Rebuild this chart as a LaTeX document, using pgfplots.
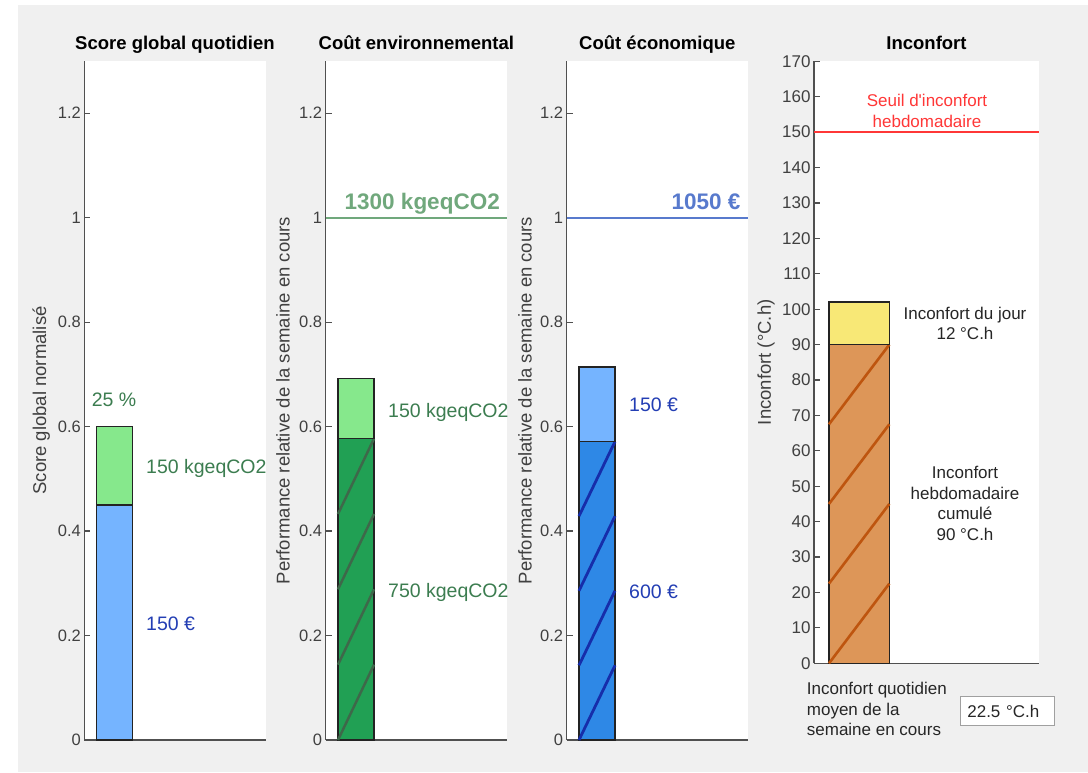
\documentclass[border=0pt]{standalone}
\usepackage{fontspec}
\setmainfont{Liberation Sans}[Ligatures=TeXOff]
\usepackage{pgfplots}
\pgfplotsset{compat=1.18}

\definecolor{bg}{RGB}{240,240,240}
\definecolor{axc}{RGB}{80,80,80}
\definecolor{tickc}{RGB}{64,64,64}
\definecolor{edge}{RGB}{35,35,35}
\definecolor{lblue}{RGB}{117,180,255}
\definecolor{lgreen}{RGB}{134,232,140}
\definecolor{dgreen}{RGB}{33,160,84}
\definecolor{hgreen}{RGB}{62,104,74}
\definecolor{dblue}{RGB}{46,136,230}
\definecolor{hblue}{RGB}{22,45,170}
\definecolor{orangeb}{RGB}{221,150,88}
\definecolor{horange}{RGB}{190,85,15}
\definecolor{yellowb}{RGB}{248,232,118}
\definecolor{txtgreen}{RGB}{60,125,80}
\definecolor{txtblue}{RGB}{35,62,180}
\definecolor{refgreen}{RGB}{112,168,124}
\definecolor{refblue}{RGB}{88,122,205}
\definecolor{refred}{RGB}{255,55,55}
\definecolor{txtdark}{RGB}{38,38,38}

\pgfplotsset{
  panel/.style={
    scale only axis, axis lines*=left,
    axis line style={axc, line width=1.2pt},
    axis background/.style={fill=white},
    xtick=\empty, tick align=inside, major tick length=6pt,
    every tick/.style={axc, line width=1.2pt},
    /pgf/number format/assume math mode=true,
    yticklabel style={font=\fontsize{16.5}{19}\selectfont, text=tickc},
    ylabel style={font=\fontsize{18.5}{22}\selectfont, text=tickc, anchor=center},
    title style={font=\bfseries\fontsize{18.5}{22}\selectfont, at={(0.5,1)}, anchor=base, yshift=5.3pt},
    clip=false, ymin=0,
  },
  perf/.style={panel, width=181.3pt, height=679pt, xmin=0, xmax=181.3, ymax=1.3,
    ytick={0,0.2,0.4,0.6,0.8,1,1.2}},
}
\newcommand{\annfont}{\fontsize{19.5}{23}\selectfont}
\newcommand{\annbold}{\bfseries\fontsize{22.5}{26}\selectfont}
\newcommand{\smfont}{\fontsize{17}{20.6}\selectfont}

\begin{document}
\begin{tikzpicture}
\useasboundingbox (0,0) rectangle (1088pt,772pt);
\fill[white] (0,0) rectangle (1088pt,772pt);
\fill[bg] (18pt,0) rectangle (1088pt,767pt);

% Panel 1
\begin{axis}[perf, at={(84.3pt,32pt)}, anchor=south west,
  title={Score global quotidien}, ylabel={Score global normalisé},
  ylabel style={at={(axis description cs:-0.237,0.5)}}]
\addplot[fill=lblue, draw=edge, line width=1.3pt] coordinates {(12.3,0) (48.3,0) (48.3,0.45) (12.3,0.45)} -- cycle;
\addplot[fill=lgreen, draw=edge, line width=1.3pt] coordinates {(12.3,0.45) (48.3,0.45) (48.3,0.6) (12.3,0.6)} -- cycle;
\node[anchor=base, font=\annfont, text=txtgreen] at (axis cs:29.7,0.638) {25 \%};
\node[anchor=base west, inner sep=0pt, font=\annfont, text=txtgreen] at (axis cs:61.7,0.511) {150 kgeqCO2};
\node[anchor=base west, inner sep=0pt, font=\annfont, text=txtblue] at (axis cs:61.7,0.209) {150 €};
\end{axis}

% Panel 2
\begin{axis}[perf, at={(325.7pt,32pt)}, anchor=south west,
  title={Coût environnemental}, ylabel={Performance relative de la semaine en cours},
  ylabel style={at={(axis description cs:-0.2355,0.5)}}]
\addplot[draw=refgreen, line width=1.8pt] coordinates {(0,1) (181.3,1)};
\addplot[fill=dgreen, draw=edge, line width=1.3pt] coordinates {(12.3,0) (48.3,0) (48.3,0.5769) (12.3,0.5769)} -- cycle;
\addplot[hgreen, line width=2.5pt] coordinates {(12.3,0) (48.3,0.1442)};
\addplot[hgreen, line width=2.5pt] coordinates {(12.3,0.1442) (48.3,0.2885)};
\addplot[hgreen, line width=2.5pt] coordinates {(12.3,0.2885) (48.3,0.4327)};
\addplot[hgreen, line width=2.5pt] coordinates {(12.3,0.4327) (48.3,0.5769)};
\addplot[fill=lgreen, draw=edge, line width=1.3pt] coordinates {(12.3,0.5769) (48.3,0.5769) (48.3,0.6923) (12.3,0.6923)} -- cycle;
\node[anchor=base east, inner sep=0pt, font=\annbold, text=refgreen] at (axis cs:174.3,1.015) {1300 kgeqCO2};
\node[anchor=base west, inner sep=0pt, font=\annfont, text=txtgreen] at (axis cs:62.3,0.618) {150 kgeqCO2};
\node[anchor=base west, inner sep=0pt, font=\annfont, text=txtgreen] at (axis cs:62.3,0.273) {750 kgeqCO2};
\end{axis}

% Panel 3
\begin{axis}[perf, at={(566.7pt,32pt)}, anchor=south west,
  title={Coût économique}, ylabel={Performance relative de la semaine en cours},
  ylabel style={at={(axis description cs:-0.230,0.5)}}]
\addplot[draw=refblue, line width=1.8pt] coordinates {(0,1) (181.3,1)};
\addplot[fill=dblue, draw=edge, line width=1.3pt] coordinates {(12.3,0) (48.3,0) (48.3,0.5714) (12.3,0.5714)} -- cycle;
\addplot[hblue, line width=2.8pt] coordinates {(12.3,0) (48.3,0.1429)};
\addplot[hblue, line width=2.8pt] coordinates {(12.3,0.1429) (48.3,0.2857)};
\addplot[hblue, line width=2.8pt] coordinates {(12.3,0.2857) (48.3,0.4286)};
\addplot[hblue, line width=2.8pt] coordinates {(12.3,0.4286) (48.3,0.5714)};
\addplot[fill=lblue, draw=edge, line width=1.3pt] coordinates {(12.3,0.5714) (48.3,0.5714) (48.3,0.7143) (12.3,0.7143)} -- cycle;
\node[anchor=base east, inner sep=0pt, font=\annbold, text=refblue] at (axis cs:174,1.015) {1050 €};
\node[anchor=base west, inner sep=0pt, font=\annfont, text=txtblue] at (axis cs:62.3,0.629) {150 €};
\node[anchor=base west, inner sep=0pt, font=\annfont, text=txtblue] at (axis cs:62.3,0.271) {600 €};
\end{axis}

% Panel 4
\begin{axis}[panel, at={(814pt,108.7pt)}, anchor=south west,
  width=225pt, height=602pt, xmin=0, xmax=225, ymax=170, ytick distance=10,
  yticklabel style={font=\fontsize{17}{20}\selectfont},
  title={Inconfort}, ylabel={Inconfort (°C.h)},
  ylabel style={at={(axis description cs:-0.2133,0.5)}}]
\addplot[draw=refred, line width=1.6pt] coordinates {(0,150) (225,150)};
\addplot[fill=orangeb, draw=edge, line width=1.3pt] coordinates {(15,0) (75.3,0) (75.3,90) (15,90)} -- cycle;
\addplot[horange, line width=2.6pt] coordinates {(15,0) (75.3,22.5)};
\addplot[horange, line width=2.6pt] coordinates {(15,22.5) (75.3,45)};
\addplot[horange, line width=2.6pt] coordinates {(15,45) (75.3,67.5)};
\addplot[horange, line width=2.6pt] coordinates {(15,67.5) (75.3,90)};
\addplot[fill=yellowb, draw=edge, line width=1.3pt] coordinates {(15,90) (75.3,90) (75.3,102) (15,102)} -- cycle;
\node[anchor=base, align=center, font=\smfont, text=refred] at (axis cs:113,151.3) {Seuil d'inconfort\\hebdomadaire};
\node[anchor=base, align=center, font=\smfont, text=txtdark] at (axis cs:151,91.4) {Inconfort du jour\\12 °C.h};
\node[anchor=base, align=center, font=\smfont, text=txtdark] at (axis cs:151,34.7) {Inconfort\\hebdomadaire\\cumulé\\90 °C.h};
\node[anchor=base west, align=left, font=\smfont, text=txtdark, inner sep=0pt] at (axis cs:-7.3,-20.47) {Inconfort quotidien\\moyen de la\\semaine en cours};
\node[anchor=west, draw={rgb,255:red,160;green,160;blue,160}, line width=1.3pt, fill=white,
  text width=80.6pt, align=left, inner xsep=6.7pt, minimum height=28.6pt,
  font=\smfont, text=txtdark] at (axis cs:146,-13.47) {22.5 °C.h};
\end{axis}
\end{tikzpicture}
\end{document}
